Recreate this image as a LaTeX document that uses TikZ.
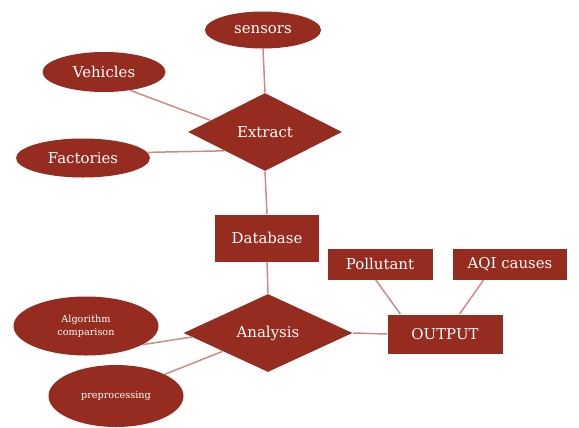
\documentclass[tikz,border=0pt]{standalone}
\usepackage{fontspec}
\setmainfont{DejaVu Serif}
\usetikzlibrary{shapes.geometric}
\definecolor{brick}{HTML}{962B1F}
\definecolor{linkred}{HTML}{CD8B83}
\begin{document}
\begin{tikzpicture}[
	attr/.style={ellipse,fill=brick,text=white,inner sep=0pt,font=\fontsize{8.5}{10}\selectfont},
	rel/.style={diamond,fill=brick,text=white,inner sep=0pt,font=\fontsize{8.5}{10}\selectfont},
	ent/.style={rectangle,fill=brick,text=white,inner sep=0pt,font=\fontsize{8.5}{10}\selectfont},
	link/.style={draw=linkred,line width=0.85pt}]
	\useasboundingbox (0,0) rectangle (11.58,-8.54);
	\node[attr,minimum width=2.32cm,minimum height=0.74cm] (sens) at (5.26,-0.60) {sensors};
	\node[attr,minimum width=2.46cm,minimum height=0.80cm] (veh) at (2.08,-1.44) {Vehicles};
	\node[attr,minimum width=2.68cm,minimum height=0.78cm] (fact) at (1.66,-3.16) {Factories};
	\node[rel,minimum width=3.08cm,minimum height=1.56cm] (extr) at (5.30,-2.64) {Extract};
	\node[ent,minimum width=2.08cm,minimum height=0.94cm] (db) at (5.34,-4.76) {Database};
	\node[rel,minimum width=3.38cm,minimum height=1.56cm] (anal) at (5.36,-6.66) {Analysis};
	\node[attr,minimum width=2.90cm,minimum height=1.18cm,align=center,font=\fontsize{5.5}{7.2}\selectfont] (algo) at (1.72,-6.52) {Algorithm\\comparison};
	\node[attr,minimum width=2.70cm,minimum height=1.24cm,font=\fontsize{5.5}{7.2}\selectfont] (prep) at (2.32,-7.92) {preprocessing};
	\node[ent,minimum width=2.10cm,minimum height=0.62cm] (poll) at (7.60,-5.28) {Pollutant};
	\node[ent,minimum width=2.28cm,minimum height=0.62cm] (aqi) at (10.20,-5.28) {AQI causes};
	\node[ent,minimum width=2.30cm,minimum height=0.78cm] (out) at (8.90,-6.68) {OUTPUT};
	\draw[link] (sens.south) -- (extr.north);
	\draw[link] (veh.-35) -- (extr.168);
	\draw[link] (fact.5) -- (extr.205);
	\draw[link] (extr.south) -- (db.north);
	\draw[link] (db.south) -- (anal.north);
	\draw[link] (algo.-18) -- (anal.183);
	\draw[link] (prep.24) -- (anal.202);
	\draw[link] (anal.east) -- (out.west);
	\draw[link] (poll.-105) -- (out.156);
	\draw[link] (aqi.211) -- (out.54);
\end{tikzpicture}
\end{document}
